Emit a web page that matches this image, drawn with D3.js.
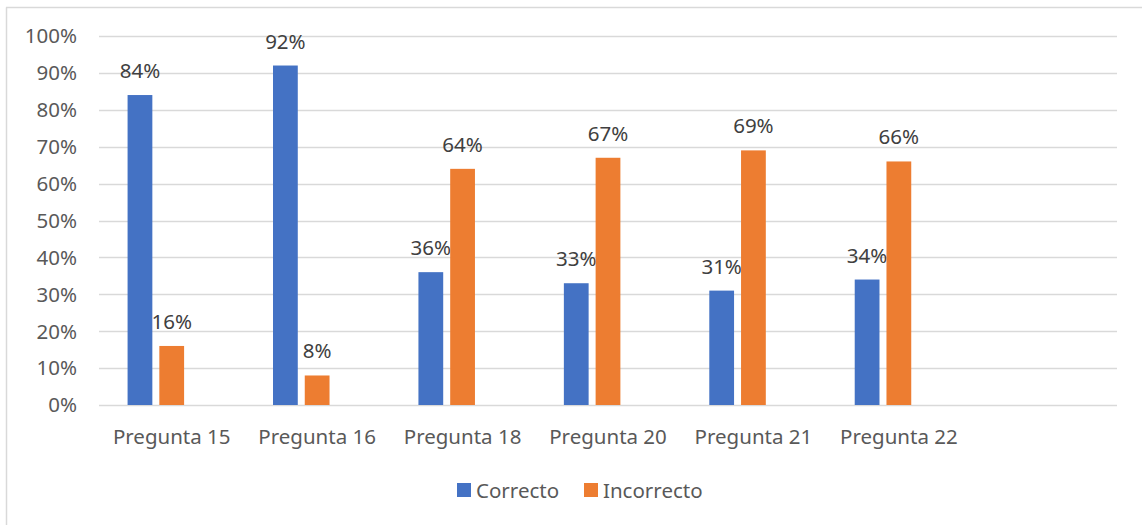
<!DOCTYPE html>
<html>
<head>
<meta charset="utf-8">
<script src="https://cdn.jsdelivr.net/npm/d3@7"></script>
<style>
  body { margin: 0; background: #fff; }
  text { font-family: "Noto Sans", "Open Sans", sans-serif; fill: #595959; }
</style>
</head>
<body>
<div id="my_dataviz"><svg></svg></div>
<script>
// categories (last slot is empty in the original chart)
var categories = ["Pregunta 15", "Pregunta 16", "Pregunta 18", "Pregunta 20", "Pregunta 21", "Pregunta 22", ""];
var seriesNames = ["Correcto", "Incorrecto"];
var correcto = [84, 92, 36, 33, 31, 34];
var incorrecto = [16, 8, 64, 67, 69, 66];
var yTicks = [0, 10, 20, 30, 40, 50, 60, 70, 80, 90, 100];
var colors = ["#4472c4", "#ed7d31"];

var W = 1142, H = 525;
var plotLeft = 99, plotRight = 1117, plotTop = 36, plotBottom = 405;
var fontSize = "20.5px";

var svg = d3.select("#my_dataviz").select("svg")
    .attr("width", W)
    .attr("height", H);

// chart border (left + top visible in the crop)
svg.append("line").attr("x1", 6.5).attr("y1", 7.5).attr("x2", 6.5).attr("y2", H)
    .attr("stroke", "#d9d9d9").attr("stroke-width", 1.5);
svg.append("line").attr("x1", 6).attr("y1", 7.5).attr("x2", W).attr("y2", 7.5)
    .attr("stroke", "#d9d9d9").attr("stroke-width", 1.5);

var x0 = d3.scaleBand()
    .domain(d3.range(categories.length))
    .range([plotLeft, plotRight]);

// three slots per group, third one is an empty series in the source
var x1 = d3.scaleBand()
    .domain([0, 1, 2])
    .range([0, x0.bandwidth()])
    .paddingInner(0.22)
    .paddingOuter(0.9);

var y = d3.scaleLinear()
    .domain([0, 100])
    .range([plotBottom, plotTop]);

// gridlines
svg.append("g")
    .selectAll("line")
    .data(yTicks)
    .enter()
    .append("line")
    .attr("x1", plotLeft)
    .attr("x2", plotRight)
    .attr("y1", function (d) { return Math.round(y(d)) + 0.5; })
    .attr("y2", function (d) { return Math.round(y(d)) + 0.5; })
    .attr("stroke", "#d9d9d9")
    .attr("stroke-width", 1.5);

// y axis labels
svg.append("g")
    .selectAll("text")
    .data(yTicks)
    .enter()
    .append("text")
    .attr("x", 77)
    .attr("y", function (d) { return y(d); })
    .attr("dy", "0.36em")
    .attr("text-anchor", "end")
    .style("font-size", fontSize)
    .text(function (d) { return d + "%"; });

// x axis labels
svg.append("g")
    .selectAll("text")
    .data(categories)
    .enter()
    .append("text")
    .attr("x", function (d, i) { return x0(i) + x0.bandwidth() / 2; })
    .attr("y", 444)
    .attr("text-anchor", "middle")
    .style("font-size", fontSize)
    .text(function (d) { return d; });

var series = [correcto, incorrecto];
series.forEach(function (vals, s) {
    var g = svg.append("g");
    g.selectAll("rect")
        .data(vals)
        .enter()
        .append("rect")
        .attr("x", function (d, i) { return x0(i) + x1(s); })
        .attr("y", function (d) { return y(d); })
        .attr("width", x1.bandwidth())
        .attr("height", function (d) { return plotBottom - y(d); })
        .attr("fill", colors[s]);
    g.selectAll("text")
        .data(vals)
        .enter()
        .append("text")
        .attr("x", function (d, i) { return x0(i) + x1(s) + x1.bandwidth() / 2; })
        .attr("y", function (d) { return y(d) - 17; })
        .attr("text-anchor", "middle")
        .style("font-size", fontSize)
        .style("fill", "#404040")
        .text(function (d) { return d + "%"; });
});

// legend
var legendX = [457, 584];
seriesNames.forEach(function (name, i) {
    svg.append("rect")
        .attr("x", legendX[i])
        .attr("y", 483)
        .attr("width", 14)
        .attr("height", 14)
        .attr("fill", colors[i]);
    svg.append("text")
        .attr("x", legendX[i] + 19)
        .attr("y", 498)
        .style("font-size", fontSize)
        .text(name);
});
</script>
</body>
</html>
